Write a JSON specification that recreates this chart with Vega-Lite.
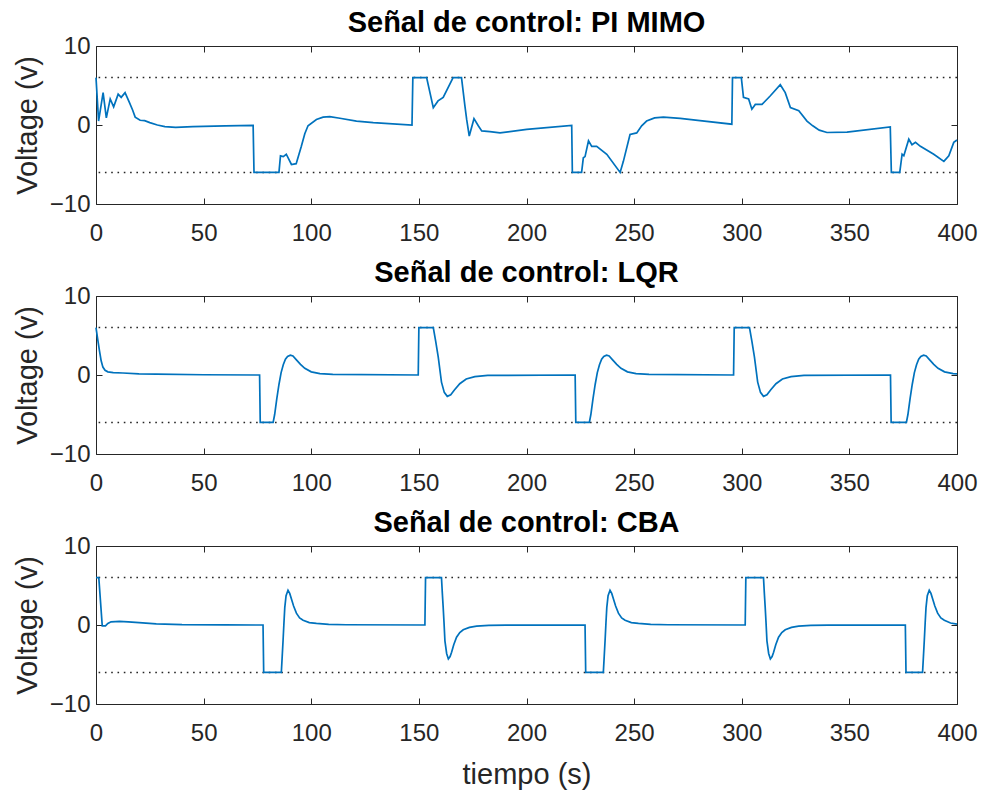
{
  "$schema": "https://vega.github.io/schema/vega-lite/v6.json",
  "padding": {"left": 12, "top": 8, "right": 5, "bottom": 0},
  "background": "white",
  "spacing": 92,
  "bounds": "flush",
  "datasets": {
    "limits": [{"y": 6}, {"y": -6}],
    "signals": [
      {"panel": "PI MIMO", "t": 0, "v": 6},
      {"panel": "PI MIMO", "t": 1.2, "v": 0.5},
      {"panel": "PI MIMO", "t": 3.3, "v": 4.1},
      {"panel": "PI MIMO", "t": 4.8, "v": 0.9},
      {"panel": "PI MIMO", "t": 6.6, "v": 3.3},
      {"panel": "PI MIMO", "t": 8.2, "v": 2.3},
      {"panel": "PI MIMO", "t": 10.3, "v": 3.9},
      {"panel": "PI MIMO", "t": 11.7, "v": 3.5},
      {"panel": "PI MIMO", "t": 13.5, "v": 4.1},
      {"panel": "PI MIMO", "t": 15.6, "v": 2.8},
      {"panel": "PI MIMO", "t": 17, "v": 1.9},
      {"panel": "PI MIMO", "t": 18.2, "v": 1.0},
      {"panel": "PI MIMO", "t": 20.5, "v": 0.6},
      {"panel": "PI MIMO", "t": 22.6, "v": 0.55},
      {"panel": "PI MIMO", "t": 25, "v": 0.3},
      {"panel": "PI MIMO", "t": 28.5, "v": 0},
      {"panel": "PI MIMO", "t": 32, "v": -0.2},
      {"panel": "PI MIMO", "t": 37, "v": -0.3},
      {"panel": "PI MIMO", "t": 45, "v": -0.2},
      {"panel": "PI MIMO", "t": 60, "v": -0.1},
      {"panel": "PI MIMO", "t": 73, "v": -0.05},
      {"panel": "PI MIMO", "t": 73.4, "v": -6},
      {"panel": "PI MIMO", "t": 85, "v": -6},
      {"panel": "PI MIMO", "t": 85.7, "v": -3.9},
      {"panel": "PI MIMO", "t": 87, "v": -4.0},
      {"panel": "PI MIMO", "t": 88.4, "v": -3.7},
      {"panel": "PI MIMO", "t": 90.8, "v": -5},
      {"panel": "PI MIMO", "t": 93, "v": -4.9},
      {"panel": "PI MIMO", "t": 95.4, "v": -2.7},
      {"panel": "PI MIMO", "t": 97, "v": -1.1},
      {"panel": "PI MIMO", "t": 98.5, "v": -0.1},
      {"panel": "PI MIMO", "t": 102.4, "v": 0.7},
      {"panel": "PI MIMO", "t": 105.5, "v": 1.0},
      {"panel": "PI MIMO", "t": 108.6, "v": 1.05},
      {"panel": "PI MIMO", "t": 113.3, "v": 0.85},
      {"panel": "PI MIMO", "t": 121, "v": 0.5},
      {"panel": "PI MIMO", "t": 128.8, "v": 0.3},
      {"panel": "PI MIMO", "t": 146.8, "v": 0},
      {"panel": "PI MIMO", "t": 147.2, "v": 6},
      {"panel": "PI MIMO", "t": 153.6, "v": 6},
      {"panel": "PI MIMO", "t": 156.7, "v": 2.2},
      {"panel": "PI MIMO", "t": 158.9, "v": 3.05},
      {"panel": "PI MIMO", "t": 161.3, "v": 3.5},
      {"panel": "PI MIMO", "t": 165.9, "v": 6},
      {"panel": "PI MIMO", "t": 169.8, "v": 6},
      {"panel": "PI MIMO", "t": 171.4, "v": 2.4},
      {"panel": "PI MIMO", "t": 172.2, "v": 0.7},
      {"panel": "PI MIMO", "t": 173.4, "v": -1.4},
      {"panel": "PI MIMO", "t": 175.6, "v": 0.8},
      {"panel": "PI MIMO", "t": 177.6, "v": -0.1},
      {"panel": "PI MIMO", "t": 179.2, "v": -0.75},
      {"panel": "PI MIMO", "t": 183, "v": -0.85},
      {"panel": "PI MIMO", "t": 187.7, "v": -1},
      {"panel": "PI MIMO", "t": 200.1, "v": -0.55},
      {"panel": "PI MIMO", "t": 221, "v": -0.05},
      {"panel": "PI MIMO", "t": 221.3, "v": -6},
      {"panel": "PI MIMO", "t": 225.6, "v": -6},
      {"panel": "PI MIMO", "t": 226.4, "v": -4.15},
      {"panel": "PI MIMO", "t": 227.2, "v": -4.0},
      {"panel": "PI MIMO", "t": 228.8, "v": -2.0},
      {"panel": "PI MIMO", "t": 230.3, "v": -2.7},
      {"panel": "PI MIMO", "t": 232.6, "v": -2.7},
      {"panel": "PI MIMO", "t": 237.3, "v": -3.7},
      {"panel": "PI MIMO", "t": 243.5, "v": -6},
      {"panel": "PI MIMO", "t": 245, "v": -4.6},
      {"panel": "PI MIMO", "t": 248.1, "v": -1.2},
      {"panel": "PI MIMO", "t": 251.2, "v": -1.0},
      {"panel": "PI MIMO", "t": 253.5, "v": -0.1},
      {"panel": "PI MIMO", "t": 255.8, "v": 0.5},
      {"panel": "PI MIMO", "t": 259.5, "v": 0.9},
      {"panel": "PI MIMO", "t": 263.6, "v": 1.0},
      {"panel": "PI MIMO", "t": 271.4, "v": 0.85},
      {"panel": "PI MIMO", "t": 280.6, "v": 0.55},
      {"panel": "PI MIMO", "t": 295.4, "v": 0.1},
      {"panel": "PI MIMO", "t": 295.7, "v": 6},
      {"panel": "PI MIMO", "t": 299.8, "v": 6},
      {"panel": "PI MIMO", "t": 300.8, "v": 3.5},
      {"panel": "PI MIMO", "t": 303.2, "v": 3.3},
      {"panel": "PI MIMO", "t": 304.7, "v": 2.0},
      {"panel": "PI MIMO", "t": 306.3, "v": 2.6},
      {"panel": "PI MIMO", "t": 309.4, "v": 2.6},
      {"panel": "PI MIMO", "t": 313.3, "v": 3.7},
      {"panel": "PI MIMO", "t": 317.9, "v": 5.1},
      {"panel": "PI MIMO", "t": 320.2, "v": 4.1},
      {"panel": "PI MIMO", "t": 322.6, "v": 2.2},
      {"panel": "PI MIMO", "t": 326.5, "v": 1.8},
      {"panel": "PI MIMO", "t": 330.3, "v": 0.5},
      {"panel": "PI MIMO", "t": 333, "v": -0.1},
      {"panel": "PI MIMO", "t": 336, "v": -0.65},
      {"panel": "PI MIMO", "t": 339.6, "v": -0.95},
      {"panel": "PI MIMO", "t": 348.9, "v": -0.9},
      {"panel": "PI MIMO", "t": 369, "v": -0.25},
      {"panel": "PI MIMO", "t": 369.5, "v": -6},
      {"panel": "PI MIMO", "t": 373.4, "v": -6},
      {"panel": "PI MIMO", "t": 374.5, "v": -3.7},
      {"panel": "PI MIMO", "t": 375.3, "v": -3.9},
      {"panel": "PI MIMO", "t": 377.6, "v": -1.8},
      {"panel": "PI MIMO", "t": 379.1, "v": -2.5},
      {"panel": "PI MIMO", "t": 380.7, "v": -2.2},
      {"panel": "PI MIMO", "t": 383, "v": -2.7},
      {"panel": "PI MIMO", "t": 389.2, "v": -3.7},
      {"panel": "PI MIMO", "t": 393.9, "v": -4.6},
      {"panel": "PI MIMO", "t": 396.2, "v": -3.9},
      {"panel": "PI MIMO", "t": 398.5, "v": -2.2},
      {"panel": "PI MIMO", "t": 400, "v": -1.9},

      {"panel": "LQR", "t": 0, "v": 6},
      {"panel": "LQR", "t": 0.8, "v": 4.5},
      {"panel": "LQR", "t": 1.6, "v": 3.1},
      {"panel": "LQR", "t": 2.4, "v": 1.8},
      {"panel": "LQR", "t": 3.2, "v": 1.0},
      {"panel": "LQR", "t": 4.2, "v": 0.6},
      {"panel": "LQR", "t": 5.5, "v": 0.4},
      {"panel": "LQR", "t": 8, "v": 0.3},
      {"panel": "LQR", "t": 12.5, "v": 0.25},
      {"panel": "LQR", "t": 20, "v": 0.15},
      {"panel": "LQR", "t": 28, "v": 0.1},
      {"panel": "LQR", "t": 50, "v": 0.03},
      {"panel": "LQR", "t": 76, "v": 0},
      {"panel": "LQR", "t": 76.3, "v": -6},
      {"panel": "LQR", "t": 82.3, "v": -6},
      {"panel": "LQR", "t": 83, "v": -5},
      {"panel": "LQR", "t": 84, "v": -3},
      {"panel": "LQR", "t": 85, "v": -1.2},
      {"panel": "LQR", "t": 86, "v": 0.3},
      {"panel": "LQR", "t": 87, "v": 1.3},
      {"panel": "LQR", "t": 88, "v": 2.0},
      {"panel": "LQR", "t": 89, "v": 2.35},
      {"panel": "LQR", "t": 90.3, "v": 2.5},
      {"panel": "LQR", "t": 91.5, "v": 2.4},
      {"panel": "LQR", "t": 93, "v": 1.95},
      {"panel": "LQR", "t": 95, "v": 1.35},
      {"panel": "LQR", "t": 97, "v": 0.85},
      {"panel": "LQR", "t": 100, "v": 0.4},
      {"panel": "LQR", "t": 104, "v": 0.18},
      {"panel": "LQR", "t": 110, "v": 0.08},
      {"panel": "LQR", "t": 149.7, "v": 0},
      {"panel": "LQR", "t": 150, "v": 6},
      {"panel": "LQR", "t": 156.7, "v": 6},
      {"panel": "LQR", "t": 157.8, "v": 4.3},
      {"panel": "LQR", "t": 159, "v": 2.25},
      {"panel": "LQR", "t": 160.5, "v": -0.9},
      {"panel": "LQR", "t": 161.8, "v": -2.2},
      {"panel": "LQR", "t": 163.2, "v": -2.7},
      {"panel": "LQR", "t": 164.8, "v": -2.5},
      {"panel": "LQR", "t": 166.5, "v": -1.9},
      {"panel": "LQR", "t": 169, "v": -1.1},
      {"panel": "LQR", "t": 172, "v": -0.5},
      {"panel": "LQR", "t": 176, "v": -0.2},
      {"panel": "LQR", "t": 182, "v": -0.05},
      {"panel": "LQR", "t": 222.6, "v": 0},
      {"panel": "LQR", "t": 222.9, "v": -6},
      {"panel": "LQR", "t": 229.2, "v": -6},
      {"panel": "LQR", "t": 229.9, "v": -5},
      {"panel": "LQR", "t": 230.9, "v": -3},
      {"panel": "LQR", "t": 231.9, "v": -1.2},
      {"panel": "LQR", "t": 232.9, "v": 0.3},
      {"panel": "LQR", "t": 233.9, "v": 1.3},
      {"panel": "LQR", "t": 234.9, "v": 2.0},
      {"panel": "LQR", "t": 235.9, "v": 2.35},
      {"panel": "LQR", "t": 237.2, "v": 2.5},
      {"panel": "LQR", "t": 238.4, "v": 2.4},
      {"panel": "LQR", "t": 239.9, "v": 1.95},
      {"panel": "LQR", "t": 241.9, "v": 1.35},
      {"panel": "LQR", "t": 243.9, "v": 0.85},
      {"panel": "LQR", "t": 246.9, "v": 0.4},
      {"panel": "LQR", "t": 250.9, "v": 0.18},
      {"panel": "LQR", "t": 256.9, "v": 0.08},
      {"panel": "LQR", "t": 296.2, "v": 0},
      {"panel": "LQR", "t": 296.5, "v": 6},
      {"panel": "LQR", "t": 303.6, "v": 6},
      {"panel": "LQR", "t": 304.7, "v": 4.3},
      {"panel": "LQR", "t": 305.9, "v": 2.25},
      {"panel": "LQR", "t": 307.4, "v": -0.9},
      {"panel": "LQR", "t": 308.7, "v": -2.2},
      {"panel": "LQR", "t": 310.1, "v": -2.7},
      {"panel": "LQR", "t": 311.7, "v": -2.5},
      {"panel": "LQR", "t": 313.4, "v": -1.9},
      {"panel": "LQR", "t": 315.9, "v": -1.1},
      {"panel": "LQR", "t": 318.9, "v": -0.5},
      {"panel": "LQR", "t": 322.9, "v": -0.2},
      {"panel": "LQR", "t": 328.9, "v": -0.05},
      {"panel": "LQR", "t": 369.1, "v": 0},
      {"panel": "LQR", "t": 369.4, "v": -6},
      {"panel": "LQR", "t": 376.5, "v": -6},
      {"panel": "LQR", "t": 377.2, "v": -5},
      {"panel": "LQR", "t": 378.2, "v": -3},
      {"panel": "LQR", "t": 379.2, "v": -1.2},
      {"panel": "LQR", "t": 380.2, "v": 0.3},
      {"panel": "LQR", "t": 381.2, "v": 1.3},
      {"panel": "LQR", "t": 382.2, "v": 2.0},
      {"panel": "LQR", "t": 383.2, "v": 2.35},
      {"panel": "LQR", "t": 384.5, "v": 2.5},
      {"panel": "LQR", "t": 385.7, "v": 2.4},
      {"panel": "LQR", "t": 387.2, "v": 1.95},
      {"panel": "LQR", "t": 389.2, "v": 1.35},
      {"panel": "LQR", "t": 391.2, "v": 0.85},
      {"panel": "LQR", "t": 394.2, "v": 0.4},
      {"panel": "LQR", "t": 398.2, "v": 0.18},
      {"panel": "LQR", "t": 400, "v": 0.14},

      {"panel": "CBA", "t": 0, "v": 6},
      {"panel": "CBA", "t": 1.3, "v": 6},
      {"panel": "CBA", "t": 2.9, "v": -0.1},
      {"panel": "CBA", "t": 4.4, "v": -0.1},
      {"panel": "CBA", "t": 5.5, "v": 0.2},
      {"panel": "CBA", "t": 7, "v": 0.4},
      {"panel": "CBA", "t": 10.9, "v": 0.45},
      {"panel": "CBA", "t": 15, "v": 0.4},
      {"panel": "CBA", "t": 20, "v": 0.3},
      {"panel": "CBA", "t": 28, "v": 0.15},
      {"panel": "CBA", "t": 40, "v": 0.05},
      {"panel": "CBA", "t": 60, "v": 0.01},
      {"panel": "CBA", "t": 77.6, "v": 0},
      {"panel": "CBA", "t": 77.9, "v": -6},
      {"panel": "CBA", "t": 86.1, "v": -6},
      {"panel": "CBA", "t": 86.5, "v": -4},
      {"panel": "CBA", "t": 86.9, "v": -2},
      {"panel": "CBA", "t": 87.3, "v": 0.2},
      {"panel": "CBA", "t": 87.7, "v": 2.2},
      {"panel": "CBA", "t": 88.3, "v": 3.7},
      {"panel": "CBA", "t": 89.2, "v": 4.4},
      {"panel": "CBA", "t": 90, "v": 4.0},
      {"panel": "CBA", "t": 90.8, "v": 3.3},
      {"panel": "CBA", "t": 91.8, "v": 2.4},
      {"panel": "CBA", "t": 93.1, "v": 1.5},
      {"panel": "CBA", "t": 94.6, "v": 0.9},
      {"panel": "CBA", "t": 96.2, "v": 0.6},
      {"panel": "CBA", "t": 99.1, "v": 0.3},
      {"panel": "CBA", "t": 102.4, "v": 0.2},
      {"panel": "CBA", "t": 108.1, "v": 0.08},
      {"panel": "CBA", "t": 116.1, "v": 0.03},
      {"panel": "CBA", "t": 152.8, "v": 0},
      {"panel": "CBA", "t": 153.1, "v": 6},
      {"panel": "CBA", "t": 160.5, "v": 6},
      {"panel": "CBA", "t": 160.9, "v": 4},
      {"panel": "CBA", "t": 161.3, "v": 2.2},
      {"panel": "CBA", "t": 161.7, "v": 0.2},
      {"panel": "CBA", "t": 162.1, "v": -2},
      {"panel": "CBA", "t": 162.9, "v": -3.6},
      {"panel": "CBA", "t": 163.7, "v": -4.3},
      {"panel": "CBA", "t": 164.5, "v": -4.0},
      {"panel": "CBA", "t": 165.2, "v": -3.45},
      {"panel": "CBA", "t": 166.2, "v": -2.5},
      {"panel": "CBA", "t": 167.5, "v": -1.55},
      {"panel": "CBA", "t": 169, "v": -0.95},
      {"panel": "CBA", "t": 170.6, "v": -0.6},
      {"panel": "CBA", "t": 173.5, "v": -0.3},
      {"panel": "CBA", "t": 176.8, "v": -0.15},
      {"panel": "CBA", "t": 182.5, "v": -0.06},
      {"panel": "CBA", "t": 190.5, "v": -0.02},
      {"panel": "CBA", "t": 227.2, "v": 0},
      {"panel": "CBA", "t": 227.5, "v": -6},
      {"panel": "CBA", "t": 235.7, "v": -6},
      {"panel": "CBA", "t": 236.1, "v": -4},
      {"panel": "CBA", "t": 236.5, "v": -2},
      {"panel": "CBA", "t": 236.9, "v": 0.2},
      {"panel": "CBA", "t": 237.3, "v": 2.2},
      {"panel": "CBA", "t": 237.9, "v": 3.7},
      {"panel": "CBA", "t": 238.8, "v": 4.4},
      {"panel": "CBA", "t": 239.6, "v": 4.0},
      {"panel": "CBA", "t": 240.4, "v": 3.3},
      {"panel": "CBA", "t": 241.4, "v": 2.4},
      {"panel": "CBA", "t": 242.7, "v": 1.5},
      {"panel": "CBA", "t": 244.2, "v": 0.9},
      {"panel": "CBA", "t": 245.8, "v": 0.6},
      {"panel": "CBA", "t": 248.7, "v": 0.3},
      {"panel": "CBA", "t": 252, "v": 0.2},
      {"panel": "CBA", "t": 257.7, "v": 0.08},
      {"panel": "CBA", "t": 265.7, "v": 0.03},
      {"panel": "CBA", "t": 301.6, "v": 0},
      {"panel": "CBA", "t": 301.9, "v": 6},
      {"panel": "CBA", "t": 310.1, "v": 6},
      {"panel": "CBA", "t": 310.5, "v": 4},
      {"panel": "CBA", "t": 310.9, "v": 2.2},
      {"panel": "CBA", "t": 311.3, "v": 0.2},
      {"panel": "CBA", "t": 311.7, "v": -2},
      {"panel": "CBA", "t": 312.5, "v": -3.6},
      {"panel": "CBA", "t": 313.3, "v": -4.3},
      {"panel": "CBA", "t": 314.1, "v": -4.0},
      {"panel": "CBA", "t": 314.8, "v": -3.45},
      {"panel": "CBA", "t": 315.8, "v": -2.5},
      {"panel": "CBA", "t": 317.1, "v": -1.55},
      {"panel": "CBA", "t": 318.6, "v": -0.95},
      {"panel": "CBA", "t": 320.2, "v": -0.6},
      {"panel": "CBA", "t": 323.1, "v": -0.3},
      {"panel": "CBA", "t": 326.4, "v": -0.15},
      {"panel": "CBA", "t": 332.1, "v": -0.06},
      {"panel": "CBA", "t": 340.1, "v": -0.02},
      {"panel": "CBA", "t": 376, "v": 0},
      {"panel": "CBA", "t": 376.3, "v": -6},
      {"panel": "CBA", "t": 384, "v": -6},
      {"panel": "CBA", "t": 384.4, "v": -4},
      {"panel": "CBA", "t": 384.8, "v": -2},
      {"panel": "CBA", "t": 385.2, "v": 0.2},
      {"panel": "CBA", "t": 385.6, "v": 2.2},
      {"panel": "CBA", "t": 386.2, "v": 3.7},
      {"panel": "CBA", "t": 387.1, "v": 4.4},
      {"panel": "CBA", "t": 387.9, "v": 4.0},
      {"panel": "CBA", "t": 388.7, "v": 3.3},
      {"panel": "CBA", "t": 389.7, "v": 2.4},
      {"panel": "CBA", "t": 391, "v": 1.5},
      {"panel": "CBA", "t": 392.5, "v": 0.9},
      {"panel": "CBA", "t": 394.1, "v": 0.6},
      {"panel": "CBA", "t": 397, "v": 0.25},
      {"panel": "CBA", "t": 400, "v": 0.12}
    ]
  },
  "vconcat": [
    {
      "title": "Señal de control: PI MIMO",
      "width": 861,
      "height": 158,
      "layer": [
        {
          "data": {"name": "signals"},
          "transform": [{"filter": {"field": "panel", "equal": "PI MIMO"}}],
          "mark": {"type": "line", "strokeOpacity": 0},
          "encoding": {
            "x": {"field": "t", "type": "quantitative", "scale": {"domain": [0, 400], "nice": false}, "axis": {"orient": "top", "labels": false, "grid": false, "title": null, "values": [0, 50, 100, 150, 200, 250, 300, 350, 400]}},
            "y": {"field": "v", "type": "quantitative", "scale": {"domain": [-10, 10], "nice": false}, "axis": {"orient": "right", "labels": false, "grid": false, "title": null, "values": [-10, 0, 10]}}
          }
        },
        {
          "data": {"name": "limits"},
          "mark": {"type": "rule", "color": "#262626", "strokeWidth": 1.5, "strokeDash": [1.6, 4.7]},
          "encoding": {"y": {"field": "y", "type": "quantitative", "axis": null}}
        },
        {
          "data": {"name": "signals"},
          "transform": [{"filter": {"field": "panel", "equal": "PI MIMO"}}],
          "mark": {"type": "line", "color": "#0072BD", "strokeWidth": 1.7},
          "encoding": {
            "x": {"field": "t", "type": "quantitative", "axis": {"orient": "bottom", "title": null, "values": [0, 50, 100, 150, 200, 250, 300, 350, 400]}},
            "y": {"field": "v", "type": "quantitative", "axis": {"orient": "left", "title": "Voltage (v)", "values": [-10, 0, 10]}}
          }
        }
      ],
      "resolve": {"axis": {"x": "independent", "y": "independent"}}
    },
    {
      "title": "Señal de control: LQR",
      "width": 861,
      "height": 158,
      "layer": [
        {
          "data": {"name": "signals"},
          "transform": [{"filter": {"field": "panel", "equal": "LQR"}}],
          "mark": {"type": "line", "strokeOpacity": 0},
          "encoding": {
            "x": {"field": "t", "type": "quantitative", "scale": {"domain": [0, 400], "nice": false}, "axis": {"orient": "top", "labels": false, "grid": false, "title": null, "values": [0, 50, 100, 150, 200, 250, 300, 350, 400]}},
            "y": {"field": "v", "type": "quantitative", "scale": {"domain": [-10, 10], "nice": false}, "axis": {"orient": "right", "labels": false, "grid": false, "title": null, "values": [-10, 0, 10]}}
          }
        },
        {
          "data": {"name": "limits"},
          "mark": {"type": "rule", "color": "#262626", "strokeWidth": 1.5, "strokeDash": [1.6, 4.7]},
          "encoding": {"y": {"field": "y", "type": "quantitative", "axis": null}}
        },
        {
          "data": {"name": "signals"},
          "transform": [{"filter": {"field": "panel", "equal": "LQR"}}],
          "mark": {"type": "line", "color": "#0072BD", "strokeWidth": 1.7},
          "encoding": {
            "x": {"field": "t", "type": "quantitative", "axis": {"orient": "bottom", "title": null, "values": [0, 50, 100, 150, 200, 250, 300, 350, 400]}},
            "y": {"field": "v", "type": "quantitative", "axis": {"orient": "left", "title": "Voltage (v)", "values": [-10, 0, 10]}}
          }
        }
      ],
      "resolve": {"axis": {"x": "independent", "y": "independent"}}
    },
    {
      "title": "Señal de control: CBA",
      "width": 861,
      "height": 158,
      "layer": [
        {
          "data": {"name": "signals"},
          "transform": [{"filter": {"field": "panel", "equal": "CBA"}}],
          "mark": {"type": "line", "strokeOpacity": 0},
          "encoding": {
            "x": {"field": "t", "type": "quantitative", "scale": {"domain": [0, 400], "nice": false}, "axis": {"orient": "top", "labels": false, "grid": false, "title": null, "values": [0, 50, 100, 150, 200, 250, 300, 350, 400]}},
            "y": {"field": "v", "type": "quantitative", "scale": {"domain": [-10, 10], "nice": false}, "axis": {"orient": "right", "labels": false, "grid": false, "title": null, "values": [-10, 0, 10]}}
          }
        },
        {
          "data": {"name": "limits"},
          "mark": {"type": "rule", "color": "#262626", "strokeWidth": 1.5, "strokeDash": [1.6, 4.7]},
          "encoding": {"y": {"field": "y", "type": "quantitative", "axis": null}}
        },
        {
          "data": {"name": "signals"},
          "transform": [{"filter": {"field": "panel", "equal": "CBA"}}],
          "mark": {"type": "line", "color": "#0072BD", "strokeWidth": 1.7},
          "encoding": {
            "x": {"field": "t", "type": "quantitative", "axis": {"orient": "bottom", "title": "tiempo (s)", "values": [0, 50, 100, 150, 200, 250, 300, 350, 400]}},
            "y": {"field": "v", "type": "quantitative", "axis": {"orient": "left", "title": "Voltage (v)", "values": [-10, 0, 10]}}
          }
        }
      ],
      "resolve": {"axis": {"x": "independent", "y": "independent"}}
    }
  ],
  "config": {
    "font": "Liberation Sans",
    "view": {"stroke": "#262626", "strokeWidth": 1},
    "axis": {
      "domain": false,
      "labelFont": "Liberation Sans",
      "labelFontSize": 24,
      "labelColor": "#262626",
      "labelFlush": false,
      "labelOverlap": false,
      "titleFont": "Liberation Sans",
      "titleFontSize": 29,
      "titleFontWeight": "normal",
      "titleColor": "#262626",
      "gridColor": "#dcdcdc",
      "gridWidth": 1,
      "tickColor": "#262626",
      "tickSize": -6,
      "tickWidth": 1
    },
    "axisX": {"labelPadding": 23, "titlePadding": 15},
    "axisY": {"labelPadding": 12, "titlePadding": 7},
    "title": {"font": "Liberation Sans", "fontSize": 29, "fontWeight": "bold", "color": "#000000", "offset": -4, "anchor": "middle", "frame": "group"}
  }
}
